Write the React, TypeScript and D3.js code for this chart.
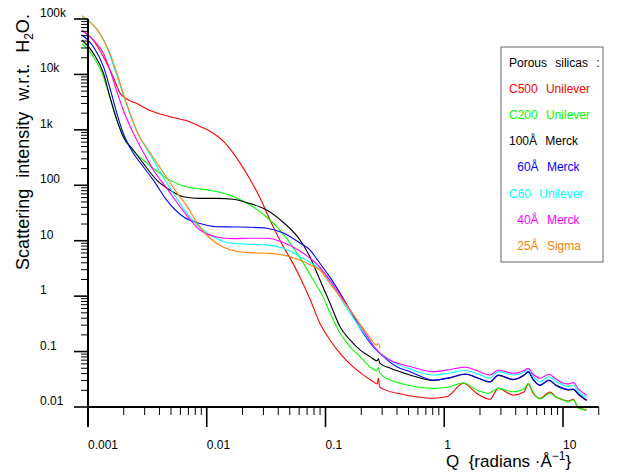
import React from 'react';
import * as d3 from 'd3';

const W = 622;
const H = 472;
const FONT = '"Liberation Sans", Arial, Helvetica, sans-serif';

// Axis ticks
const xTickValues = [0.001, 0.01, 0.1, 1, 10];
const xTickLabels = ['0.001', '0.01', '0.1', '1', '10'];
const yTickValues = [0.01, 0.1, 1, 10, 100, 1000, 10000, 100000];
const yTickLabels = ['0.01', '0.1', '1', '10', '100', '1k', '10k', '100k'];

// Legend
const legendTitle = 'Porous  silicas  :';
const seriesNames = ['C500  Unilever', 'C200  Unilever', '100Å  Merck', '  60Å  Merck', 'C60  Unilever', '  40Å  Merck', '  25Å  Sigma'];
const seriesColors = ['#ff0000', '#00ff00', '#000000', '#0000ff', '#00ffff', '#ff00ff', '#ff8000'];

// Series [Q, I]
const c500: [number, number][] = [
  [0.00089, 63000], [0.00111, 41000], [0.00135, 20600], [0.00163, 9000], [0.00186, 4600], [0.00212, 3600],
  [0.00257, 3000], [0.00333, 2230], [0.0049, 1730], [0.00723, 1390], [0.00878, 1150], [0.01135, 870],
  [0.0137, 630], [0.0167, 380], [0.0216, 165], [0.0281, 59], [0.0341, 23.7], [0.0442, 7.8], [0.0502, 4.9],
  [0.061, 2.2], [0.074, 0.89], [0.0899, 0.32], [0.109, 0.162], [0.1325, 0.093], [0.171, 0.053], [0.208, 0.038],
  [0.253, 0.0286], [0.272, 0.026], [0.279, 0.033], [0.286, 0.023], [0.307, 0.021], [0.424, 0.0173],
  [0.809, 0.0144], [1.05, 0.0153], [1.45, 0.0268], [1.87, 0.0177], [2.43, 0.0138], [2.85, 0.0217],
  [3.81, 0.0164], [4.69, 0.0187], [5.1, 0.026], [5.59, 0.0179], [6.4, 0.0144], [7.78, 0.0187], [8.73, 0.0151],
  [10.07, 0.0134], [11.0, 0.0128], [12.2, 0.0138], [13.5, 0.0096], [15.8, 0.009],
];
const c200: [number, number][] = [
  [0.00089, 35800], [0.00111, 20900], [0.00135, 9100], [0.00153, 3760], [0.00175, 1510], [0.00198, 760],
  [0.00241, 412], [0.00292, 286], [0.00379, 181], [0.0049, 124], [0.00635, 97], [0.00878, 86], [0.0121, 77],
  [0.0167, 63], [0.0231, 44], [0.032, 26.8], [0.0442, 13.2], [0.061, 4.9], [0.0789, 1.95], [0.096, 0.95],
  [0.109, 0.5], [0.1325, 0.216], [0.161, 0.122], [0.195, 0.081], [0.237, 0.0533], [0.272, 0.045], [0.279, 0.052],
  [0.286, 0.041], [0.349, 0.0307], [0.424, 0.0268], [0.809, 0.0217], [1.12, 0.0232], [1.45, 0.0274],
  [1.87, 0.0203], [2.35, 0.0177], [2.85, 0.0217], [3.81, 0.0189], [4.69, 0.0211], [5.1, 0.0268], [5.59, 0.0187],
  [6.4, 0.0139], [7.78, 0.0177], [8.73, 0.0151], [10.07, 0.0134], [11.0, 0.0123], [12.2, 0.0134], [13.5, 0.0096],
  [15.8, 0.0087],
];
const merck100: [number, number][] = [
  [0.00089, 41800], [0.00111, 24000], [0.00135, 10500], [0.00153, 3960], [0.00175, 1510], [0.00198, 752],
  [0.00241, 433], [0.00292, 249], [0.00379, 124], [0.0049, 82], [0.00635, 62], [0.00878, 58], [0.0121, 58],
  [0.0167, 56], [0.0231, 47], [0.032, 35.8], [0.0442, 21.3], [0.061, 10.3], [0.074, 5.1], [0.0899, 1.95],
  [0.109, 0.75], [0.1325, 0.281], [0.161, 0.162], [0.195, 0.107], [0.237, 0.081], [0.272, 0.068], [0.279, 0.075],
  [0.286, 0.062], [0.349, 0.0505], [0.515, 0.0378], [0.809, 0.0301], [1.12, 0.0335], [1.5, 0.039], [1.92, 0.033],
  [2.43, 0.0282], [2.85, 0.0372], [3.81, 0.0312], [4.69, 0.0372], [5.1, 0.0428], [5.59, 0.0315], [6.4, 0.0245],
  [7.62, 0.0302], [8.73, 0.0245], [10.07, 0.0213], [11.0, 0.0203], [12.2, 0.0207], [13.5, 0.0168], [15.8, 0.0131],
];
const merck60: [number, number][] = [
  [0.00089, 51400], [0.00111, 31600], [0.00135, 13800], [0.00153, 5690], [0.00175, 1990], [0.00198, 867],
  [0.00241, 378], [0.00292, 216], [0.00355, 124], [0.0046, 54], [0.00635, 27], [0.00878, 20.4], [0.0121, 17.9],
  [0.0167, 17.7], [0.0231, 17.5], [0.032, 16.8], [0.0442, 13.8], [0.061, 9.1], [0.074, 6.8], [0.0843, 4.7],
  [0.109, 2.2], [0.161, 0.56], [0.208, 0.214], [0.253, 0.122], [0.307, 0.081], [0.398, 0.0533], [0.515, 0.0434],
  [0.809, 0.0307], [1.12, 0.034], [1.5, 0.0394], [1.92, 0.0334], [2.43, 0.0286], [2.85, 0.0378], [3.81, 0.0316],
  [4.69, 0.0378], [5.1, 0.0434], [5.59, 0.032], [6.4, 0.0249], [7.62, 0.0307], [8.73, 0.0249], [10.07, 0.0217],
  [11.0, 0.0207], [12.2, 0.0211], [13.5, 0.0172], [15.8, 0.0134],
];
const c60: [number, number][] = [
  [0.00089, 106000], [0.00126, 55200], [0.00144, 31600], [0.00163, 14800], [0.00186, 6440], [0.00212, 2810],
  [0.00241, 1310], [0.00292, 571], [0.00355, 286], [0.0043, 141], [0.00523, 72], [0.00635, 38], [0.00878, 17.3],
  [0.0121, 11], [0.0167, 8.9], [0.0231, 8.6], [0.032, 8.4], [0.0442, 7.3], [0.061, 5.15], [0.074, 4.1],
  [0.0843, 3.4], [0.109, 1.82], [0.137, 0.85], [0.161, 0.49], [0.222, 0.185], [0.288, 0.093], [0.398, 0.06],
  [0.515, 0.0485], [0.809, 0.0378], [1.12, 0.0411], [1.5, 0.0456], [1.92, 0.0394], [2.43, 0.033], [2.85, 0.0434],
  [3.81, 0.0378], [4.69, 0.0428], [5.1, 0.0479], [5.59, 0.0362], [6.4, 0.0286], [7.62, 0.0352], [8.73, 0.0288],
  [10.07, 0.0249], [11.0, 0.0234], [12.2, 0.0244], [13.5, 0.019], [15.8, 0.0153],
];
const merck40: [number, number][] = [
  [0.00089, 62000], [0.00111, 41800], [0.00135, 24000], [0.00153, 12000], [0.00175, 4920], [0.00198, 2280],
  [0.00241, 867], [0.00292, 398], [0.00355, 189], [0.0046, 89], [0.00635, 34.4], [0.00878, 15.6], [0.0121, 11.7],
  [0.0167, 10.9], [0.0231, 11.1], [0.032, 11.1], [0.0442, 9.3], [0.061, 6.5], [0.0843, 3.8], [0.109, 1.95],
  [0.161, 0.56], [0.208, 0.245], [0.27, 0.107], [0.349, 0.0705], [0.515, 0.0538], [0.809, 0.0434], [1.12, 0.0475],
  [1.5, 0.052], [1.92, 0.0446], [2.43, 0.0378], [2.85, 0.0466], [3.81, 0.0406], [4.69, 0.0456], [5.1, 0.0499],
  [5.59, 0.0394], [6.4, 0.033], [7.62, 0.0389], [8.73, 0.032], [10.07, 0.0268], [11.0, 0.026], [12.2, 0.0275],
  [13.5, 0.0211], [15.8, 0.0164],
];
const sigma25: [number, number][] = [
  [0.00089, 115000], [0.00124, 57000], [0.00153, 24000], [0.00175, 10500], [0.00198, 4560], [0.00226, 2000],
  [0.00264, 840], [0.00314, 470], [0.00381, 252], [0.00463, 135], [0.00561, 73], [0.00682, 42], [0.00828, 21],
  [0.0106, 11.2], [0.0137, 7.7], [0.018, 6.4], [0.0231, 6.1], [0.0341, 5.9], [0.0502, 5.15], [0.074, 3.7],
  [0.0899, 2.96], [0.109, 1.7], [0.1325, 0.98], [0.161, 0.56], [0.222, 0.214], [0.272, 0.13], [0.279, 0.14],
  [0.288, 0.115],
];

const seriesData = [c500, c200, merck100, merck60, c60, merck40, sigma25];

export default function App() {
  const x = d3.scaleLog().domain([0.001, 10]).range([88, 563]);
  const y = d3.scaleLog().domain([0.01, 100000]).range([407, 19]);
  const xEnd = 20;

  const line = d3
    .line<[number, number]>()
    .x((d) => x(d[0]))
    .y((d) => y(d[1]))
    .curve(d3.curveMonotoneX);

  const xMinor: number[] = [];
  [0.001, 0.01, 0.1, 1, 10].forEach((dec) => {
    for (let m = 2; m <= 9; m++) {
      const v = m * dec;
      if (v <= xEnd + 1e-9) xMinor.push(v);
    }
  });
  const yMinor: number[] = [];
  [0.01, 0.1, 1, 10, 100, 1000, 10000].forEach((dec) => {
    for (let m = 2; m <= 9; m++) yMinor.push(m * dec);
  });

  const x0 = x(0.001);
  const y0 = y(0.01);

  return (
    <svg
      width={W}
      height={H}
      style={{ position: 'absolute', left: 0, top: 0, background: '#fff' }}
      fontFamily={FONT}
    >
      <rect x={0} y={0} width={W} height={H} fill="#fff" />

      {/* curves */}
      {seriesData.map((s, i) => (
        <path key={i} d={line(s) || ''} fill="none" stroke={seriesColors[i]} strokeWidth={1.1} />
      ))}

      {/* y axis */}
      <line x1={x0} x2={x0} y1={y(100000)} y2={y0 + 20} stroke="#000" strokeWidth={2} />
      {yTickValues.map((v, i) => (
        <g key={'yt' + i}>
          <line x1={x0 - 14} x2={x0} y1={y(v)} y2={y(v)} stroke="#000" strokeWidth={1.6} />
          <text x={40} y={y(v) - 2} fontSize={12} fill="#000">
            {yTickLabels[i]}
          </text>
        </g>
      ))}
      {yMinor.map((v, i) => (
        <line key={'ym' + i} x1={x0 - 7} x2={x0} y1={y(v)} y2={y(v)} stroke="#000" strokeWidth={1} />
      ))}

      {/* x axis */}
      <line x1={x0} x2={x(xEnd)} y1={y0} y2={y0} stroke="#000" strokeWidth={2} />
      {xTickValues.map((v, i) => (
        <g key={'xt' + i}>
          <line x1={x(v)} x2={x(v)} y1={y0} y2={y0 + 20} stroke="#000" strokeWidth={1.6} />
          <text x={x(v)} y={449} fontSize={12} fill="#000">
            {xTickLabels[i]}
          </text>
        </g>
      ))}
      {xMinor.map((v, i) => (
        <line key={'xm' + i} x1={x(v)} x2={x(v)} y1={y0} y2={y0 + 8} stroke="#000" strokeWidth={1} />
      ))}

      {/* axis titles */}
      <text
        transform="translate(29,142) rotate(-90)"
        textAnchor="middle"
        fontSize={18}
        fill="#000"
        style={{ wordSpacing: '6px' }}
      >
        Scattering intensity w.r.t. H<tspan fontSize={12} dy={4}>2</tspan>
        <tspan dy={-4}>O.</tspan>
      </text>
      <text x={446} y={467} fontSize={17} fill="#000" style={{ whiteSpace: 'pre' }} xmlSpace="preserve">
        {'Q  {radians ·Å'}
        <tspan dy={-7} fontSize={12}>
          {'\u22121'}
        </tspan>
        <tspan dy={7}>{'}'}</tspan>
      </text>

      {/* legend */}
      <rect x={501} y={47} width={102} height={215} fill="#fff" stroke="#666" strokeWidth={1} />
      <text x={509} y={66.5} fontSize={12} fill="#000" style={{ whiteSpace: 'pre', wordSpacing: '0.8px' }} xmlSpace="preserve">
        {legendTitle}
      </text>
      {seriesNames.map((n, i) => (
        <text
          key={'lg' + i}
          x={509}
          y={92.7 + i * 26.2}
          fontSize={12}
          fill={seriesColors[i]}
          style={{ whiteSpace: 'pre', wordSpacing: '0.8px' }}
          xmlSpace="preserve"
        >
          {n}
        </text>
      ))}
    </svg>
  );
}
